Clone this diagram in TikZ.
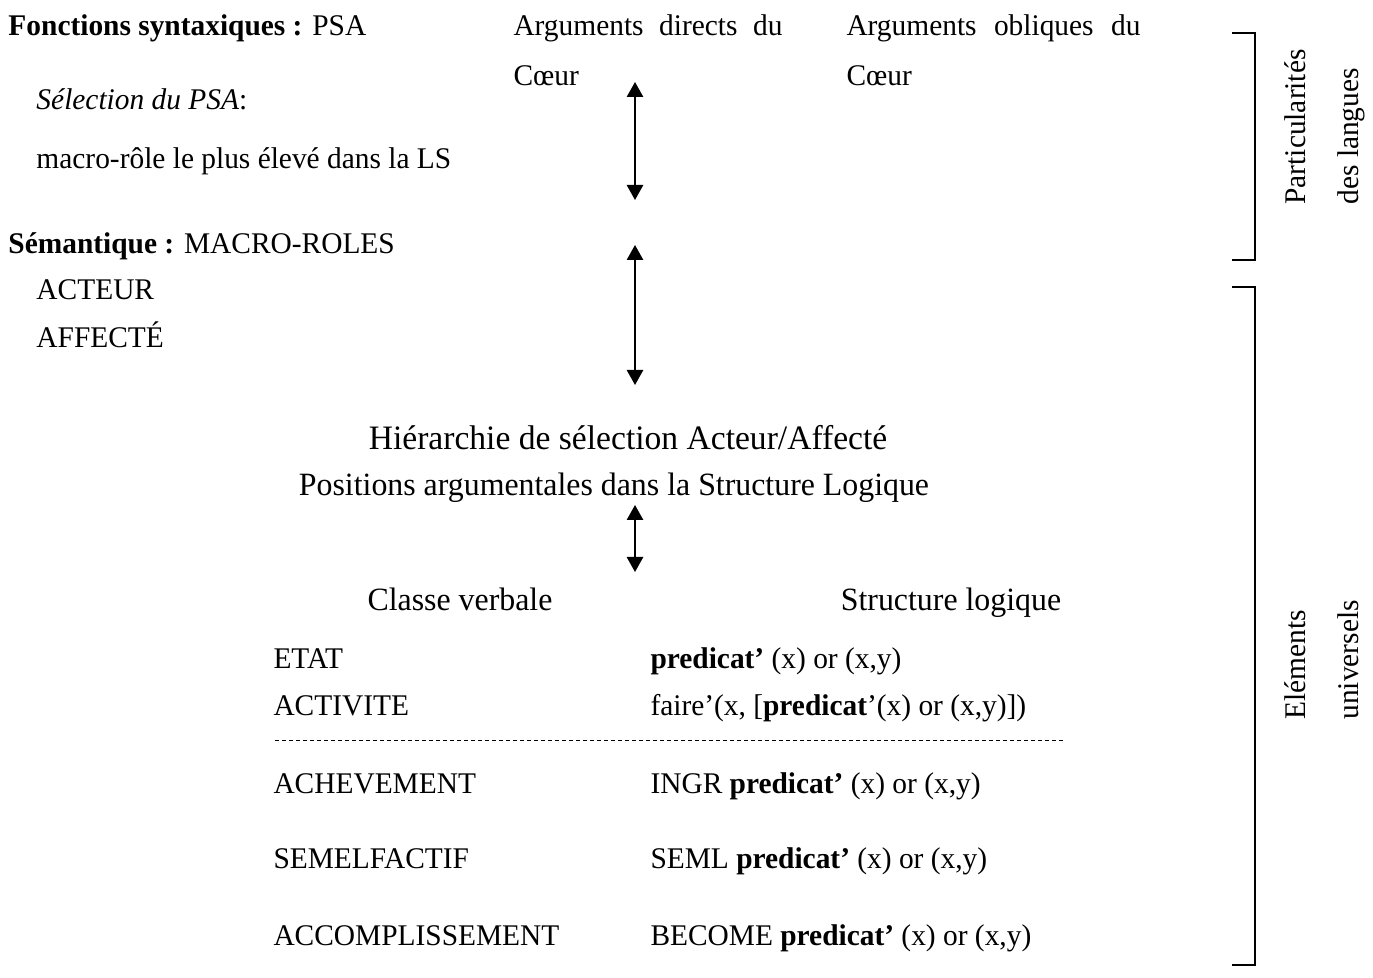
\documentclass[tikz,border=0pt]{standalone}
\usepackage{fontspec}
\setmainfont{Liberation Serif}[FakeStretch=0.98]
\usetikzlibrary{arrows.meta}

\begin{document}
\begin{tikzpicture}[x=0.4pt,y=-0.4pt,
  txt/.style={anchor=base west, inner sep=0pt, font=\fontsize{12}{14}\selectfont},
  mid/.style={anchor=base, inner sep=0pt, font=\fontsize{13}{16}\selectfont},
  vert/.style={anchor=base west, inner sep=0pt, rotate=90, font=\fontsize{12}{14}\selectfont},
  arr/.style={line width=0.8pt, {Triangle[length=6pt,width=6.5pt]}-{Triangle[length=6pt,width=6.5pt]}},
  brk/.style={line width=0.8pt}]

\useasboundingbox (0,0) rectangle (1373,978);

% upper part
\node[txt] (fonct) at (8,36) {\textbf{Fonctions syntaxiques :} PSA};
\node[txt] (argd) at (513,36) {\makebox[107.6pt][s]{Arguments directs du}};
\node[txt] (cd) at (513,86) {Cœur};
\node[txt] (argo) at (846,36) {\makebox[117.6pt][s]{Arguments obliques du}};
\node[txt] (co) at (846,86) {Cœur};
\node[txt] (selec) at (36,110) {\textit{Sélection du PSA}:};
\node[txt] (macro) at (36,169) {macro-rôle le plus élevé dans la LS};

\node[txt] (seman) at (8,254) {\textbf{Sémantique :} MACRO-ROLES};
\node[txt] (act) at (36,300) {ACTEUR};
\node[txt] (aff) at (36,348) {AFFECTÉ};

\coordinate (a1t) at (635,82);
\coordinate (a1b) at (635,200);
\coordinate (a2t) at (635,245);
\coordinate (a2b) at (635,385);
\draw[arr] (a1t) -- (a1b);
\draw[arr] (a2t) -- (a2b);

% middle
\node[mid, font=\fontsize{13.7}{16}\selectfont] (hier) at (628,450) {Hiérarchie de sélection Acteur/Affecté};
\node[mid] (posit) at (614,496) {Positions argumentales dans la Structure Logique};
\coordinate (a3t) at (635,505);
\coordinate (a3b) at (635,572);
\draw[arr] (a3t) -- (a3b);

% verb classes
\node[mid] (classe) at (460,611) {Classe verbale};
\node[mid] (struct) at (951,611) {Structure logique};

\node[txt] (etat) at (273,668) {ETAT};
\node[txt] (etatl) at (650,668) {\textbf{predicat’} (x) or (x,y)};
\node[txt] (activ) at (273,715) {ACTIVITE};
\node[txt] (activl) at (650,715) {faire’(x, [\textbf{predicat}’(x) or (x,y)])};
\draw[line width=0.4pt, dash pattern=on 1.6pt off 1.2pt] (275,740) -- (1065,740);
\node[txt] (achev) at (273,793) {ACHEVEMENT};
\node[txt] (achevl) at (650,793) {INGR \textbf{predicat’} (x) or (x,y)};
\node[txt] (semel) at (273,868) {SEMELFACTIF};
\node[txt] (semell) at (650,868) {SEML \textbf{predicat’} (x) or (x,y)};
\node[txt] (accom) at (273,945) {ACCOMPLISSEMENT};
\node[txt] (accoml) at (650,945) {BECOME \textbf{predicat’} (x) or (x,y)};

% brackets on the right
\draw[brk] (1232,33) -- (1255,33) -- (1255,260) -- (1232,260);
\draw[brk] (1232,287) -- (1255,287) -- (1255,965) -- (1232,965);
\node[vert] (part) at (1305,205) {Particularités};
\node[vert] (lang) at (1358,205) {des langues};
\node[vert] (elem) at (1305,720) {Eléments};
\node[vert] (univ) at (1358,720) {universels};

\end{tikzpicture}
\end{document}
